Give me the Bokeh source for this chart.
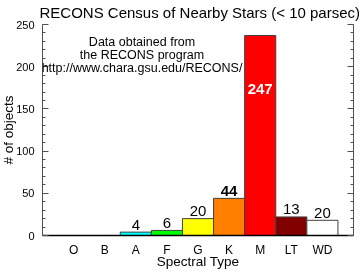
import math
from bokeh.plotting import figure
from bokeh.models import Range1d, FixedTicker, LinearAxis, Label, ColumnDataSource, CustomJSTickFormatter
from bokeh.embed import file_html
from bokeh.resources import INLINE

# ---- data ----
categories = ["O", "B", "A", "F", "G", "K", "M", "LT", "WD"]
bar_values = [0, 0, 4, 6, 20, 44, 237, 22, 18]
bar_labels = ["", "", "4", "6", "20", "44", "247", "13", "20"]
bar_colors = ["#ffffff", "#ffffff", "#00ffff", "#00ff00", "#ffff00", "#ff8000", "#ff0000", "#800000", "#ffffff"]
y_ticks = [0, 50, 100, 150, 200, 250]
y_minor = list(range(0, 251, 10))
title_text = "RECONS Census of Nearby Stars (< 10 parsec)"
note_lines = ["Data obtained from", "the RECONS program", "http://www.chara.gsu.edu/RECONS/"]
x_title = "Spectral Type"
y_title = "# of objects"

FONT = "Liberation Sans"
xs = list(range(1, len(categories) + 1))

p = figure(width=367, height=281, output_backend="svg", toolbar_location=None,
           x_range=Range1d(0, 10), y_range=Range1d(0, 250),
           min_border_left=45, min_border_right=11, min_border_top=28, min_border_bottom=42,
           title=title_text)
p.styles = {"position": "fixed", "top": "-4px", "left": "-3px"}
p.outline_line_color = None
p.grid.visible = False
p.background_fill_color = "white"

p.title.text_font = FONT
p.title.text_font_size = "15px"
p.title.text_font_style = "normal"
p.title.text_color = "black"
p.title.align = "left"
p.title.offset = -3
p.title.standoff = 7

# bars
idx = [i for i, v in enumerate(bar_values) if v > 0]
src = ColumnDataSource(dict(x=[xs[i] for i in idx], top=[bar_values[i] for i in idx],
                            color=[bar_colors[i] for i in idx]))
p.vbar(x="x", top="top", bottom=0, width=1.0, fill_color="color", line_color="#404040",
       line_width=1, source=src)

# x axis
xa = p.xaxis[0]
xa.ticker = FixedTicker(ticks=xs)
xa.major_label_overrides = {x: c for x, c in zip(xs, categories)}
xa.major_tick_in = 0
xa.major_tick_out = 0
xa.minor_tick_in = 0
xa.minor_tick_out = 0
xa.axis_line_color = "black"
xa.axis_line_width = 1.5
xa.major_label_text_font = FONT
xa.major_label_text_font_size = "12px"
xa.major_label_text_color = "black"
xa.major_label_standoff = 7
xa.axis_label = x_title
xa.axis_label_text_font = FONT
xa.axis_label_text_font_size = "13.5px"
xa.axis_label_text_font_style = "normal"
xa.axis_label_text_color = "black"
xa.axis_label_standoff = -6

# y axis (left)
ya = p.yaxis[0]
ya.ticker = FixedTicker(ticks=y_ticks, minor_ticks=y_minor)
ya.major_tick_in = 6
ya.major_tick_out = 0
ya.minor_tick_in = 3
ya.minor_tick_out = 0
ya.axis_line_color = "#505050"
ya.major_tick_line_color = "#505050"
ya.minor_tick_line_color = "#505050"
ya.major_label_text_font = FONT
ya.major_label_text_font_size = "11px"
ya.major_label_text_color = "black"
ya.major_label_standoff = 8
ya.axis_label = y_title
ya.axis_label_text_font = FONT
ya.axis_label_text_font_size = "13.5px"
ya.axis_label_text_font_style = "normal"
ya.axis_label_text_color = "black"
ya.axis_label_standoff = -3

# right axis (ticks only)
ra = LinearAxis(ticker=FixedTicker(ticks=y_ticks, minor_ticks=y_minor),
                formatter=CustomJSTickFormatter(code="return ''"))
ra.major_tick_in = 6
ra.major_tick_out = 0
ra.minor_tick_in = 3
ra.minor_tick_out = 0
ra.axis_line_color = "#505050"
ra.major_tick_line_color = "#505050"
ra.minor_tick_line_color = "#505050"
ra.major_label_standoff = 0
p.add_layout(ra, "right")

# value labels (anchored at glyph middle)
for i, (x, v, lab) in enumerate(zip(xs, bar_values, bar_labels)):
    if not lab:
        continue
    if categories[i] == "M":
        p.add_layout(Label(x=x, y=173, text=lab, text_align="center", text_baseline="middle",
                           text_font=FONT, text_font_size="15px", text_font_style="bold",
                           text_color="white"))
    else:
        bold = categories[i] == "K"
        p.add_layout(Label(x=x, y=v + 9, text=lab, text_align="center", text_baseline="middle",
                           text_font=FONT, text_font_size="15px",
                           text_font_style="bold" if bold else "normal", text_color="black"))

# note text
for ln, yy in zip(note_lines, [229.3, 213.9, 198.5]):
    p.add_layout(Label(x=3.2, y=yy, text=ln, text_align="center", text_baseline="middle",
                       text_font=FONT, text_font_size="12.5px", text_color="black"))

open("out.html", "w").write(file_html(p, INLINE))
